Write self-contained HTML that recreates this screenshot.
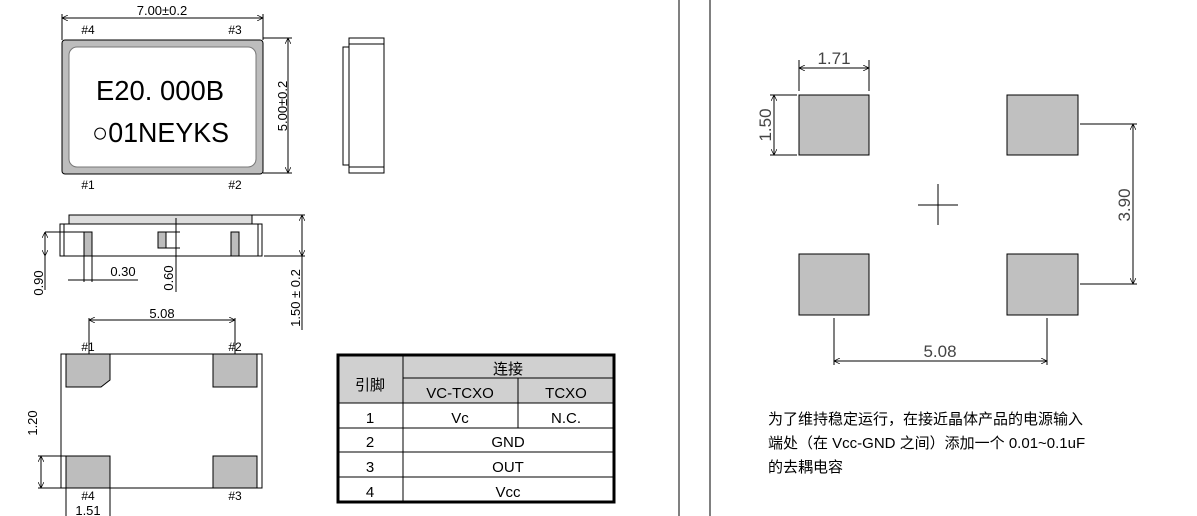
<!DOCTYPE html>
<html><head><meta charset="utf-8"><style>
body{margin:0;background:#fff}
svg{display:block}
text{font-family:"Liberation Sans","Noto Sans CJK SC",sans-serif}
</style></head><body>
<svg width="1197" height="516" viewBox="0 0 1197 516" xmlns="http://www.w3.org/2000/svg">
<defs>
<marker id="a" viewBox="0 0 10 10" refX="10" refY="5" markerWidth="6" markerHeight="6" orient="auto-start-reverse"><path d="M0,0 L10,5 L0,10" fill="none" stroke="#000" stroke-width="1.2"/></marker>
</defs>
<g stroke="#000" stroke-width="1" fill="none">
<line x1="62" y1="18" x2="263" y2="18" marker-start="url(#a)" marker-end="url(#a)"/>
<line x1="62" y1="14" x2="62" y2="40"/><line x1="263" y1="14" x2="263" y2="40"/>
<rect x="62" y="40" width="201" height="134" rx="3" fill="#bdbdbd"/>
<rect x="69" y="47" width="187" height="120" rx="8" fill="#fff" stroke="#777"/>
<line x1="263" y1="38" x2="292" y2="38"/><line x1="263" y1="173" x2="292" y2="173"/>
<line x1="288" y1="38" x2="288" y2="173" marker-start="url(#a)" marker-end="url(#a)"/>
<rect x="349" y="38" width="35" height="135" fill="#fff"/>
<line x1="349" y1="44" x2="384" y2="44"/><line x1="349" y1="167" x2="384" y2="167"/>
<rect x="343" y="47" width="6" height="118" fill="#fff"/>
<rect x="69" y="215" width="183" height="9" fill="#ddd"/>
<rect x="60" y="224" width="202" height="32" fill="#fff"/>
<line x1="64" y1="224" x2="64" y2="256"/><line x1="258" y1="224" x2="258" y2="256"/>
<rect x="84" y="232" width="8" height="24" fill="#bdbdbd"/>
<rect x="158" y="232" width="8" height="16" fill="#bdbdbd"/>
<rect x="231" y="232" width="8" height="24" fill="#bdbdbd"/>
<line x1="252" y1="215" x2="305" y2="215"/><line x1="264" y1="256" x2="305" y2="256"/>
<line x1="302" y1="215" x2="302" y2="256" marker-start="url(#a)" marker-end="url(#a)"/>
<line x1="302" y1="256" x2="302" y2="330"/>
<line x1="45" y1="232" x2="84" y2="232"/>
<line x1="45" y1="232" x2="45" y2="256" marker-start="url(#a)" marker-end="url(#a)"/>
<line x1="45" y1="256" x2="45" y2="290"/>
<line x1="84" y1="256" x2="84" y2="282"/><line x1="92" y1="256" x2="92" y2="282"/>
<line x1="68" y1="280" x2="138" y2="280"/>
<line x1="176" y1="218" x2="176" y2="292"/>
<line x1="166" y1="232" x2="180" y2="232"/><line x1="166" y1="248" x2="180" y2="248"/>
<line x1="89" y1="320" x2="235" y2="320" marker-start="url(#a)" marker-end="url(#a)"/>
<line x1="89" y1="318" x2="89" y2="354"/><line x1="235" y1="318" x2="235" y2="354"/>
<rect x="61" y="354" width="201" height="134" fill="#fff"/>
<path d="M66 354 H110 V380 L101 387 H66 Z" fill="#bdbdbd"/>
<rect x="213" y="354" width="44" height="33" fill="#bdbdbd"/>
<rect x="66" y="456" width="44" height="32" fill="#bdbdbd"/>
<rect x="213" y="456" width="44" height="32" fill="#bdbdbd"/>
<line x1="38" y1="456" x2="66" y2="456"/>
<line x1="41" y1="456" x2="41" y2="488" marker-start="url(#a)" marker-end="url(#a)"/>
<line x1="38" y1="488" x2="66" y2="488"/>
<line x1="66" y1="488" x2="66" y2="516"/><line x1="110" y1="488" x2="110" y2="516"/>
<rect x="338" y="355" width="276" height="23" fill="#d0d0d0" stroke="none"/>
<rect x="338" y="378" width="276" height="25" fill="#d0d0d0" stroke="none"/>
<rect x="338" y="355" width="276" height="147" stroke-width="3"/>
<line x1="403" y1="355" x2="403" y2="502"/>
<line x1="403" y1="378" x2="614" y2="378"/>
<line x1="338" y1="403" x2="614" y2="403"/>
<line x1="338" y1="428" x2="614" y2="428"/>
<line x1="338" y1="452" x2="614" y2="452"/>
<line x1="338" y1="477" x2="614" y2="477"/>
<line x1="518" y1="378" x2="518" y2="428"/>
<line x1="679" y1="0" x2="679" y2="516"/><line x1="710" y1="0" x2="710" y2="516"/>
<rect x="799" y="95" width="70" height="60" fill="#c0c0c0"/>
<rect x="1007" y="95" width="71" height="60" fill="#c0c0c0"/>
<rect x="799" y="254" width="70" height="61" fill="#c0c0c0"/>
<rect x="1007" y="254" width="71" height="61" fill="#c0c0c0"/>
<line x1="799" y1="60" x2="799" y2="91"/><line x1="869" y1="60" x2="869" y2="91"/>
<line x1="799" y1="68" x2="869" y2="68" marker-start="url(#a)" marker-end="url(#a)"/>
<line x1="770" y1="95" x2="797" y2="95"/><line x1="770" y1="155" x2="797" y2="155"/>
<line x1="774" y1="95" x2="774" y2="155" marker-start="url(#a)" marker-end="url(#a)"/>
<line x1="918" y1="205" x2="958" y2="205"/><line x1="938" y1="184" x2="938" y2="225"/>
<line x1="1080" y1="124" x2="1137" y2="124"/><line x1="1080" y1="284" x2="1137" y2="284"/>
<line x1="1133" y1="124" x2="1133" y2="284" marker-start="url(#a)" marker-end="url(#a)"/>
<line x1="834" y1="318" x2="834" y2="365"/><line x1="1047" y1="318" x2="1047" y2="365"/>
<line x1="834" y1="361" x2="1047" y2="361" marker-start="url(#a)" marker-end="url(#a)"/>
</g>
<g font-size="13" fill="#000">
<text x="162" y="15" text-anchor="middle">7.00±0.2</text>
<text x="88" y="34" text-anchor="middle" font-size="12">#4</text>
<text x="235" y="34" text-anchor="middle" font-size="12">#3</text>
<text x="88" y="189" text-anchor="middle" font-size="12">#1</text>
<text x="235" y="189" text-anchor="middle" font-size="12">#2</text>
<text x="96" y="100" font-size="28" textLength="128" lengthAdjust="spacingAndGlyphs">E20. 000B</text>
<text x="92" y="142" font-size="28" textLength="137" lengthAdjust="spacingAndGlyphs">○01NEYKS</text>
<text transform="translate(287,106) rotate(-90)" text-anchor="middle">5.00±0.2</text>
<text x="123" y="276" text-anchor="middle">0.30</text>
<text transform="translate(43,283) rotate(-90)" text-anchor="middle">0.90</text>
<text transform="translate(173,278) rotate(-90)" text-anchor="middle">0.60</text>
<text transform="translate(300,298) rotate(-90)" text-anchor="middle">1.50 ± 0.2</text>
<text x="162" y="318" text-anchor="middle">5.08</text>
<text x="88" y="351" text-anchor="middle" font-size="12">#1</text>
<text x="235" y="351" text-anchor="middle" font-size="12">#2</text>
<text x="88" y="500" text-anchor="middle" font-size="12">#4</text>
<text x="235" y="500" text-anchor="middle" font-size="12">#3</text>
<text x="88" y="515" text-anchor="middle">1.51</text>
<text transform="translate(37,423) rotate(-90)" text-anchor="middle">1.20</text>
<g font-size="15" text-anchor="middle">
<text x="370" y="390">引脚</text>
<text x="508" y="374">连接</text>
<text x="460" y="398">VC-TCXO</text>
<text x="566" y="398">TCXO</text>
<text x="370" y="423">1</text><text x="460" y="423">Vc</text><text x="566" y="423">N.C.</text>
<text x="370" y="447">2</text><text x="508" y="447">GND</text>
<text x="370" y="472">3</text><text x="508" y="472">OUT</text>
<text x="370" y="497">4</text><text x="508" y="497">Vcc</text>
</g>
<g font-size="17" fill="#444">
<text x="834" y="64" text-anchor="middle">1.71</text>
<text transform="translate(771,125) rotate(-90)" text-anchor="middle">1.50</text>
<text transform="translate(1130,205) rotate(-90)" text-anchor="middle">3.90</text>
<text x="940" y="357" text-anchor="middle">5.08</text>
</g>
<g font-size="15">
<text x="768" y="424">为了维持稳定运行，在接近晶体产品的电源输入</text>
<text x="768" y="448">端处（在 Vcc-GND 之间）添加一个 0.01~0.1uF</text>
<text x="768" y="472">的去耦电容</text>
</g>
</g>
</svg>
</body></html>
